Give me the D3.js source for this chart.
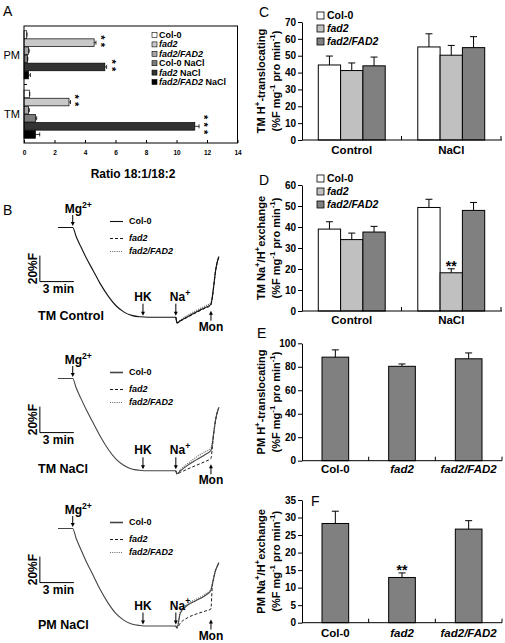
<!DOCTYPE html>
<html><head><meta charset="utf-8">
<script src="https://cdn.jsdelivr.net/npm/d3@7"></script>
<style>
body{margin:0;background:#fff}
svg{display:block}
text{font-family:"Liberation Sans",Arial,Helvetica,sans-serif}
</style>
</head><body>
<script>
// ---------------- DATA ----------------
// Panel A: ratio 18:1/18:2
const aGroups = ["PM", "TM"];
const aSeries = ["Col-0", "fad2", "fad2/FAD2", "Col-0 NaCl", "fad2 NaCl", "fad2/FAD2 NaCl"];
const aPM = [0.18, 4.6, 0.3, 0.22, 5.3, 0.3];
const aPMErr = [0.02, 0.12, 0.04, 0.03, 0.12, 0.12];
const aTM = [0.35, 2.95, 0.3, 0.75, 11.2, 0.75];
const aTMErr = [0.03, 0.1, 0.05, 0.08, 0.28, 0.28];
const aStarsPM = ["", "**", "", "", "**", ""];
const aStarsTM = ["", "**", "", "", "***", ""];
const aTicks = [0, 2, 4, 6, 8, 10, 12, 14];

// Panel B: fluorescence traces (time in min, %F relative to start)
const bTime = [0, 1.3, 1.6, 2.0, 2.5, 3.1, 3.7, 4.4, 5.1, 5.8, 6.5, 7.2, 8.0, 10.4,
               10.5, 10.8, 11.4, 12.2, 13.0, 13.5, 13.6, 13.75, 13.9, 14.05, 14.2];
const bEvents = {Mg: 1.3, HK: 7.5, Na: 10.4, Mon: 13.5};
const tmcCol0 = [0, 0, -6.9, -14.5, -23.5, -33.1, -42.8, -52.4, -60, -64.9, -67.6, -68.7, -69, -69,
                 -73.5, -71.8, -68.8, -65.0, -61.5, -59.2, -54.6, -44.6, -33.8, -26.9, -22.3];
const tmcFad2 = [0, 0, -6.9, -14.5, -23.5, -33.1, -42.8, -52.4, -60, -64.9, -67.6, -68.7, -69, -69,
                 -73.5, -72.0, -69.2, -65.5, -62.0, -59.8, -55.2, -44.8, -33.9, -26.9, -22.3];
const tmcComp = [0, 0, -6.9, -14.5, -23.5, -33.1, -42.8, -52.4, -60, -64.9, -67.6, -68.7, -69, -69,
                 -73.3, -71.2, -67.8, -63.8, -60.2, -57.8, -54.0, -44.4, -33.7, -26.9, -22.3];
const tmnCol0 = [0, 0, -7.1, -14.9, -24.1, -34.1, -44, -54, -61.8, -66.7, -69.6, -70.6, -71, -71,
                 -73.3, -71.0, -67.0, -62.6, -58.5, -55.4, -51.5, -41.5, -32.3, -26.2, -22.3];
const tmnFad2 = [0, 0, -7.1, -14.9, -24.1, -34.1, -44, -54, -61.8, -66.7, -69.6, -70.6, -71, -71,
                 -73.3, -72.2, -69.8, -66.8, -63.8, -61.5, -55.0, -42.0, -32.5, -26.2, -22.3];
const tmnComp = [0, 0, -7.1, -14.9, -24.1, -34.1, -44, -54, -61.8, -66.7, -69.6, -70.6, -71, -71,
                 -73.3, -70.2, -65.8, -60.6, -56.2, -53.8, -50.5, -41.2, -32.2, -26.2, -22.3];
const pmnCol0 = [0, 0, -7.5, -15.8, -25.5, -36, -46.5, -57, -65.3, -70.5, -73.5, -74.6, -75, -75,
                 -76.5, -65.0, -59.2, -55.4, -51.5, -47.7, -43.8, -37.7, -32.3, -29.2, -26.2];
const pmnFad2 = [0, 0, -7.5, -15.8, -25.5, -36, -46.5, -57, -65.3, -70.5, -73.5, -74.6, -75, -75,
                 -76.5, -72.7, -68.8, -65.8, -63.5, -61.9, -47.0, -38.2, -32.5, -29.2, -26.2];
const pmnComp = [0, 0, -7.5, -15.8, -25.5, -36, -46.5, -57, -65.3, -70.5, -73.5, -74.6, -75, -75,
                 -76.5, -64.0, -58.2, -54.4, -50.5, -46.5, -43.0, -37.4, -32.2, -29.2, -26.2];

// Panels C, D: grouped bars
const cdCats = ["Control", "NaCl"];
const genos = ["Col-0", "fad2", "fad2/FAD2"];
const cControl = [44.5, 41.2, 44.0];
const cControlErr = [5.3, 4.5, 5.2];
const cNaCl = [55.2, 50.3, 54.8];
const cNaClErr = [7.8, 5.8, 6.5];
const cTicks = [0, 10, 20, 30, 40, 50, 60, 70];
const dControl = [39.0, 34.0, 37.6];
const dControlErr = [3.5, 3.1, 2.7];
const dNaCl = [49.3, 18.2, 47.9];
const dNaClErr = [3.9, 1.9, 3.8];
const dNaClStars = ["", "**", ""];
const dTicks = [0, 10, 20, 30, 40, 50, 60];
// Panels E, F: simple bars
const eVals = [88.2, 80.4, 86.8];
const eErr = [6.2, 2.0, 5.0];
const eTicks = [0, 20, 40, 60, 80, 100];
const fVals = [28.3, 12.9, 26.7];
const fErr = [3.5, 1.3, 2.4];
const fStars = ["", "**", ""];
const fTicks = [0, 5, 10, 15, 20, 25, 30, 35];

// ---------------- DRAWING ----------------
const svg = d3.select("body").append("svg").attr("width", 505).attr("height", 643);

function rich(t, parts, size) {
  let shift = 0;
  parts.forEach(p => {
    const txt = p[0], type = p[1] || "";
    const sup = type.includes("sup");
    const target = sup ? -size * 0.42 : 0;
    const ts = t.append("tspan").text(txt);
    if (target - shift !== 0) ts.attr("dy", target - shift);
    shift = target;
    if (sup) ts.attr("font-size", size * 0.72);
    if (type.includes("i")) ts.attr("font-style", "italic");
  });
  return t;
}
function genoParts(name) {
  if (name === "Col-0") return [["Col-0"]];
  return [[name, "i"]];
}
function arrow(g, x, y1, y2) {
  const dir = y2 > y1 ? 1 : -1;
  g.append("line").attr("x1", x).attr("x2", x).attr("y1", y1).attr("y2", y2 - dir * 3)
    .attr("stroke", "#000").attr("stroke-width", 1);
  g.append("path").attr("d", `M${x - 2},${y2 - dir * 4}L${x + 2},${y2 - dir * 4}L${x},${y2}Z`).attr("fill", "#000");
}
function letter(x, y, s) {
  svg.append("text").attr("x", x).attr("y", y).attr("font-size", 14).text(s);
}

// ===== Panel A =====
letter(3, 16, "A");
const gA = svg.append("g");
const ax = d3.scaleLinear().domain([0, 14]).range([24, 237.5]);
const ay = d3.scaleBand().domain(aGroups).range([26, 143]).paddingInner(0.19).paddingOuter(0.08);
const ay1 = d3.scaleBand().domain(aSeries).range([0, ay.bandwidth()]).paddingInner(0.06);
const aColors = ["#ffffff", "#c8c8c8", "#a6a6a6", "#7c7c7c", "#333333", "#000000"];
const aVals = {PM: aPM, TM: aTM}, aErrs = {PM: aPMErr, TM: aTMErr}, aSt = {PM: aStarsPM, TM: aStarsTM};
aGroups.forEach(g => {
  aSeries.forEach((s, i) => {
    const y = ay(g) + ay1(s), h = ay1.bandwidth(), v = aVals[g][i], e = aErrs[g][i];
    const cy = y + h / 2;
    gA.append("rect").attr("x", ax(0)).attr("y", y).attr("width", ax(v) - ax(0)).attr("height", h)
      .attr("fill", aColors[i]).attr("stroke", "#000").attr("stroke-width", 0.7);
    gA.append("line").attr("x1", ax(v)).attr("x2", ax(v + e)).attr("y1", cy).attr("y2", cy)
      .attr("stroke", "#000").attr("stroke-width", 0.8);
    gA.append("line").attr("x1", ax(v + e)).attr("x2", ax(v + e)).attr("y1", cy - 2).attr("y2", cy + 2)
      .attr("stroke", "#000").attr("stroke-width", 0.8);
    const st = aSt[g][i];
    if (st) {
      const fsz = 11;
      gA.append("text")
        .attr("transform", `translate(${ax(v + e) + 7 - fsz * 0.55},${cy}) rotate(90)`)
        .attr("text-anchor", "middle").attr("font-size", fsz).attr("font-weight", "bold")
        .attr("letter-spacing", 3.2).text(st);
    }
  });
  gA.append("text").attr("x", 20).attr("y", ay(g) + ay.bandwidth() / 2 + 4).attr("text-anchor", "end")
    .attr("font-size", 11).text(g);
});
gA.append("rect").attr("x", 24).attr("y", 26).attr("width", 213.5).attr("height", 117)
  .attr("fill", "none").attr("stroke", "#000").attr("stroke-width", 1);
const axA = gA.append("g").attr("transform", "translate(0,143)")
  .call(d3.axisBottom(ax).tickValues(aTicks).tickSizeInner(-3).tickSizeOuter(0).tickPadding(7));
axA.select(".domain").remove();
axA.selectAll("text").attr("font-family", '"Liberation Serif",serif').attr("font-size", 6.5).attr("font-weight", "bold");
const aMid = ay("TM") - ay.step() * 0.19 / 2;
gA.append("line").attr("x1", 24).attr("x2", 27).attr("y1", aMid).attr("y2", aMid).attr("stroke", "#000");
aSeries.forEach((s, i) => {
  const yy = 35 + i * 9.4;
  gA.append("rect").attr("x", 152).attr("y", yy - 2.5).attr("width", 5).attr("height", 5)
    .attr("fill", aColors[i]).attr("stroke", "#000").attr("stroke-width", 0.6);
  const t = gA.append("text").attr("x", 159).attr("y", yy + 3).attr("font-size", 9).attr("font-weight", "bold");
  const parts = [[["Col-0"]], [["fad2", "i"]], [["fad2/FAD2", "i"]], [["Col-0 NaCl"]],
                 [["fad2", "i"], [" NaCl"]], [["fad2/FAD2", "i"], [" NaCl"]]][i];
  rich(t, parts, 9);
});
svg.append("text").attr("x", 133).attr("y", 178).attr("text-anchor", "middle").attr("font-size", 12)
  .attr("font-weight", "bold").text("Ratio 18:1/18:2");

// ===== Panel B =====
letter(3, 215, "B");
const bX = d3.scaleLinear().domain([0, 14.2]).range([58, 58 + 14.2 * 11.33]);
const traces = [
  {label: "TM Control", y0: 227, col: tmcCol0, fad2: tmcFad2, comp: tmcComp, colColor: "#111"},
  {label: "TM NaCl", y0: 378, col: tmnCol0, fad2: tmnFad2, comp: tmnComp, colColor: "#444"},
  {label: "PM NaCl", y0: 528, col: pmnCol0, fad2: pmnFad2, comp: pmnComp, colColor: "#444"}
];
const naIdx = bTime.indexOf(bEvents.Na);
traces.forEach(tr => {
  const g = svg.append("g");
  const gl = g.append("g").attr("transform", "translate(0,0.5)");
  const y = d3.scaleLinear().domain([0, -100]).range([tr.y0, tr.y0 + 130]);
  const line = d3.line().x(d => bX(d[0])).y(d => y(d[1])).curve(d3.curveMonotoneX);
  const pts = arr => arr.map((v, i) => [bTime[i], v]);
  const asym = y(tr.col[12]);
  // mutant traces overlap Col-0 until Na+ addition; draw their visible part
  gl.append("path").attr("d", line(pts(tr.comp).slice(naIdx))).attr("fill", "none").attr("stroke", "#666")
    .attr("stroke-width", 1.2).attr("stroke-dasharray", "1,1.2");
  gl.append("path").attr("d", line(pts(tr.fad2).slice(naIdx))).attr("fill", "none").attr("stroke", "#000")
    .attr("stroke-width", 0.9).attr("stroke-dasharray", "3,2");
  gl.append("path").attr("d", line(pts(tr.col))).attr("fill", "none").attr("stroke", tr.colColor)
    .attr("stroke-width", 1.1);
  // events
  const fs = 12;
  const tMg = g.append("text").attr("x", bX(bEvents.Mg) - 8).attr("y", tr.y0 - 14)
    .attr("font-size", fs).attr("font-weight", "bold");
  rich(tMg, [["Mg"], ["2+", "sup"]], fs);
  arrow(g, bX(bEvents.Mg), tr.y0 - 12, tr.y0 - 1);
  g.append("text").attr("x", bX(bEvents.HK)).attr("y", asym - 16).attr("text-anchor", "middle")
    .attr("font-size", fs).attr("font-weight", "bold").text("HK");
  arrow(g, bX(bEvents.HK), asym - 13, asym - 1);
  const tNa = g.append("text").attr("x", bX(bEvents.Na) - 6).attr("y", asym - 16)
    .attr("font-size", fs).attr("font-weight", "bold");
  rich(tNa, [["Na"], ["+", "sup"]], fs);
  arrow(g, bX(bEvents.Na), asym - 13, asym - 1);
  g.append("text").attr("x", bX(bEvents.Mon)).attr("y", asym + 14).attr("text-anchor", "middle")
    .attr("font-size", fs).attr("font-weight", "bold").text("Mon");
  arrow(g, bX(bEvents.Mon), asym + 4, asym - 6);
  // panel label
  g.append("text").attr("x", 38).attr("y", asym + 3).attr("font-size", 12.5).attr("font-weight", "bold")
    .text(tr.label);
  // scale bar
  const sbx = bX(-1.6), sby = y(-42);
  g.append("path").attr("d", `M${sbx},${y(-22)}V${sby}H${bX(-1.6 + 3)}`).attr("fill", "none")
    .attr("stroke", "#000").attr("stroke-width", 1);
  g.append("text").attr("transform", `translate(${sbx - 3},${(y(-22) + sby) / 2}) rotate(-90)`)
    .attr("text-anchor", "middle").attr("font-size", 12).attr("font-weight", "bold").text("20%F");
  g.append("text").attr("x", sbx + 3).attr("y", sby + 11).attr("font-size", 12).attr("font-weight", "bold")
    .text("3 min");
  // legend
  const ly = [tr.y0 - 6, tr.y0 + 11, tr.y0 + 24];
  const lstyle = [[tr.colColor, null, tr.colColor === "#111" ? 1.1 : 1.6], ["#000", "3,2", 0.9], ["#666", "1,1.2", 1.2]];
  genos.forEach((gn, i) => {
    g.append("line").attr("x1", 110).attr("x2", 123).attr("y1", ly[i] + 0.5).attr("y2", ly[i] + 0.5)
      .attr("stroke", lstyle[i][0]).attr("stroke-dasharray", lstyle[i][1]).attr("stroke-width", lstyle[i][2]);
    const t = g.append("text").attr("x", 129).attr("y", ly[i] + 3).attr("font-size", 9).attr("font-weight", "bold");
    rich(t, genoParts(gn), 9);
  });
});

// ===== Panels C-F helpers =====
const barCols = ["#ffffff", "#c0c0c0", "#808080"];
function yAxisLabel(cy, line1) {
  const t1 = svg.append("text").attr("transform", `translate(265,${cy}) rotate(-90)`)
    .attr("text-anchor", "middle").attr("font-size", 11).attr("font-weight", "bold");
  rich(t1, line1, 11);
  const t2 = svg.append("text").attr("transform", `translate(280,${cy}) rotate(-90)`)
    .attr("text-anchor", "middle").attr("font-size", 11).attr("font-weight", "bold");
  rich(t2, [["(%F mg"], ["-1", "sup"], [" pro min"], ["-1", "sup"], [")"]], 11);
}
function yAxis(y, ticks) {
  const g = svg.append("g").attr("transform", "translate(302,0)")
    .call(d3.axisLeft(y).tickValues(ticks).tickSizeInner(4).tickSizeOuter(0).tickPadding(2));
  g.selectAll("text").attr("font-size", 10).attr("font-weight", "bold")
    .attr("font-family", '"Liberation Sans",Arial,sans-serif');
  g.select(".domain").attr("stroke-width", 1);
}
function xBase(y0, bounds) {
  svg.append("line").attr("x1", 302).attr("x2", 502).attr("y1", y0).attr("y2", y0).attr("stroke", "#000");
  bounds.forEach(b => svg.append("line").attr("x1", b).attr("x2", b).attr("y1", y0).attr("y2", y0 - 4)
    .attr("stroke", "#000"));
}
function bar(x, w, y, v, e, fill, stars) {
  svg.append("rect").attr("x", x).attr("y", y(v)).attr("width", w).attr("height", y(0) - y(v))
    .attr("fill", fill).attr("stroke", "#000").attr("stroke-width", 1);
  const cx = x + w / 2;
  svg.append("line").attr("x1", cx).attr("x2", cx).attr("y1", y(v)).attr("y2", y(v + e)).attr("stroke", "#000");
  svg.append("line").attr("x1", cx - 3.5).attr("x2", cx + 3.5).attr("y1", y(v + e)).attr("y2", y(v + e)).attr("stroke", "#000");
  if (stars) svg.append("text").attr("x", cx).attr("y", y(v + e) + 2).attr("text-anchor", "middle")
    .attr("font-size", 14).attr("font-weight", "bold").text(stars);
}
function legend3(top) {
  genos.forEach((gn, i) => {
    const yy = top + i * 13;
    svg.append("rect").attr("x", 317).attr("y", yy - 3.5).attr("width", 7).attr("height", 7)
      .attr("fill", barCols[i]).attr("stroke", "#000").attr("stroke-width", 0.8);
    const t = svg.append("text").attr("x", 327).attr("y", yy + 3.5).attr("font-size", 10.5).attr("font-weight", "bold");
    rich(t, genoParts(gn), 10.5);
  });
}
function groupedPanel(yTop, yBot, ticks, ctrl, ctrlE, nacl, naclE, naclStars, labY, line1) {
  const y = d3.scaleLinear().domain([0, ticks[ticks.length - 1]]).range([yBot, yTop]);
  const x0 = d3.scaleBand().domain(cdCats).range([302, 501]);
  const x1 = d3.scaleBand().domain(genos).range([0, x0.bandwidth()]).paddingOuter(0.73);
  const vals = {Control: ctrl, NaCl: nacl}, errs = {Control: ctrlE, NaCl: naclE};
  cdCats.forEach(c => {
    genos.forEach((gn, i) => {
      bar(x0(c) + x1(gn), x1.bandwidth(), y, vals[c][i], errs[c][i], barCols[i],
        c === "NaCl" && naclStars ? naclStars[i] : "");
    });
    svg.append("text").attr("x", x0(c) + x0.bandwidth() / 2).attr("y", labY).attr("text-anchor", "middle")
      .attr("font-size", 11.5).attr("font-weight", "bold").text(c);
  });
  xBase(yBot, [x0("NaCl"), 501]);
  yAxis(y, ticks);
  legend3(yTop - 6.5);
  yAxisLabel((yTop + yBot) / 2, line1);
}
function simplePanel(yTop, yBot, ticks, vals, errs, stars, labY, line1) {
  const y = d3.scaleLinear().domain([0, ticks[ticks.length - 1]]).range([yBot, yTop]);
  const x = d3.scaleBand().domain(genos).range([302, 502]).paddingInner(0.6).paddingOuter(0.3);
  genos.forEach((gn, i) => {
    bar(x(gn), x.bandwidth(), y, vals[i], errs[i], "#808080", stars ? stars[i] : "");
    const t = svg.append("text").attr("x", x(gn) + x.bandwidth() / 2).attr("y", labY).attr("text-anchor", "middle")
      .attr("font-size", 11.5).attr("font-weight", "bold");
    rich(t, genoParts(gn), 11.5);
  });
  const st = x.step();
  xBase(yBot, [302 + st, 302 + 2 * st, 502]);
  yAxis(y, ticks);
  yAxisLabel((yTop + yBot) / 2, line1);
}

// ===== Panel C =====
letter(259, 17, "C");
groupedPanel(22, 140, cTicks, cControl, cControlErr, cNaCl, cNaClErr, null, 154,
  [["TM H"], ["+", "sup"], ["-translocating"]]);
// ===== Panel D =====
letter(259, 185, "D");
groupedPanel(185, 311, dTicks, dControl, dControlErr, dNaCl, dNaClErr, dNaClStars, 324,
  [["TM Na"], ["+", "sup"], ["/H"], ["+", "sup"], ["exchange"]]);
// ===== Panel E =====
letter(257, 338, "E");
simplePanel(343.3, 460.7, eTicks, eVals, eErr, null, 473,
  [["PM H"], ["+", "sup"], ["-translocating"]]);
// ===== Panel F =====
letter(311, 506, "F");
simplePanel(500, 622.7, fTicks, fVals, fErr, fStars, 637,
  [["PM Na"], ["+", "sup"], ["/H"], ["+", "sup"], ["exchange"]]);
</script>
</body></html>
